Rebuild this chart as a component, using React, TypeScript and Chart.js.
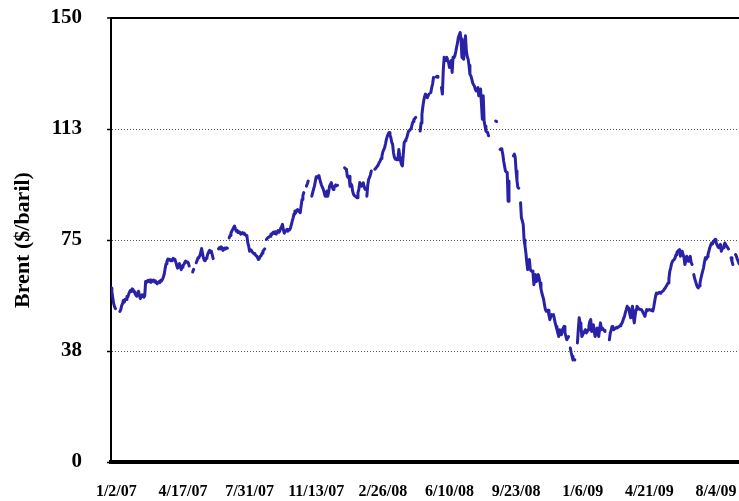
import React, { useEffect, useRef } from 'react';
import { Chart, registerables } from 'chart.js';

Chart.register(...registerables);

const _ = null;

// Brent daily prices ($/barrel), one entry per trading day (null = missing)
const brent2007: (number | null)[] = [
  58.8, 57.5, 55.5, 53.5, 52.5, 51.8, _, _, _, _,
  50.9, 51.5, 52.8, 53.5, 54.6, 54.0, 55.0, 54.9, 56.0, 55.8,
  56.8, 57.5, 58.0, 57.6, 58.5, 58.2, 57.5, 57.0, 56.4, 56.0,
  56.8, 57.7, 56.3, 55.2, 55.8, 56.5, 56.0, 55.7, 56.2, 61.0,
  60.6, 61.2, 61.4, 60.9, 61.5, 60.7, 61.0, 61.3, 61.5, 60.8,
  61.2, 60.5, 60.2, 60.7, 61.0, 60.6, 61.4, 61.2, 61.8, 62.5,
  63.6, 65.5, 67.0, 67.8, 68.6, 68.2, 68.5, 68.0, 68.3, 68.0,
  68.8, 68.5, 68.3, 67.5, 66.3, 65.5, 66.4, 67.0, 66.0, 65.0,
  65.8, 66.5, 66.7, 67.4, 67.9, 67.5, 67.6, 67.3, 66.2, _,
  _, _, 64.2, 65.1, _, _, 67.3, 68.2, 69.0, 69.3,
  69.6, 70.8, 72.1, 70.5, 69.0, 68.2, 68.0, 68.8, 69.2, 70.3,
  71.0, 71.5, 70.8, 71.2, 70.0, 68.7, _, _, _, _,
  _, 72.0, 72.4, 72.0, 72.7, 72.2, 71.5, 71.8, 72.3, 72.0,
  72.4, 72.2, _, 75.7, 76.5, 77.3, 78.0, 78.6, 79.2, 79.7,
  78.8, 78.0, 78.3, 77.5, 77.8, 77.6, 77.0, 77.2, 77.5, 77.0,
  77.3, 76.8, 76.5, 76.3, 74.0, 72.9, 71.2, 71.8, 71.5, 71.0,
  70.6, 70.4, 70.1, 69.8, 69.6, 69.0, 68.4, 68.8, 69.5, 69.7,
  70.5, 71.2, 71.6, 72.0, _, 75.2, 75.6, 75.9, 76.0, 76.3,
  77.0, 76.8, 77.4, 77.7, 77.2, 77.8, 77.0, 77.5, 78.2, 77.6,
  78.0, 79.0, 79.5, 80.3, 78.5, 77.3, 77.8, 78.2, 78.6, 78.0,
  78.5, 78.4, 79.0, 80.2, 81.4, 82.5, 83.8, 84.8, 84.2, 85.0,
  85.3, 84.9, 84.5, 84.2, 86.5, 88.7, 90.0, 91.0, _, _,
  93.2, 94.0, 94.9, _, _, _, 89.8, 91.0, 92.2, 93.2,
  94.8, 96.4, 96.0, 96.5, 96.8, 95.6, 94.4, 93.5, 92.8, 92.1,
  91.0, 89.8, 90.5, 91.5, 89.8, 91.2, 93.2, 93.8, 94.4, 93.0,
  92.1, 92.7, 93.2, 93.6, 93.3, 93.5, _, _, _, _,
];

const brent2008: (number | null)[] = [
  _, _, _, 99.4, 99.0, 98.9, 96.5, 96.1, 96.5, 93.2,
  94.0, 93.5, 91.5, 90.4, 90.0, 89.8, 89.5, 89.3, 91.0, 92.1,
  94.4, 93.5, 93.2, 93.8, 94.3, 93.0, 92.1, _, 89.8, 93.5,
  95.5, 96.1, 97.0, 98.3, _, _, _, 98.9, 99.2, 99.6,
  100.0, 100.5, 101.2, 101.7, 102.5, 103.4, 104.8, 105.5, 106.2, 107.5,
  109.0, 110.0, 110.8, 111.3, 110.5, 109.6, 108.0, 107.3, 104.5, 103.0,
  102.3, 102.5, 102.1, 102.3, 105.6, 103.5, 101.7, 100.5, 100.0, 104.0,
  107.9, 108.5, 109.0, 109.6, 110.8, 111.8, 112.0, 112.4, 112.8, 114.1,
  115.0, 115.8, 116.0, 116.4, _, _, _, _, 111.8, 114.5,
  117.5, 120.0, 122.0, 123.5, 124.3, 123.6, 123.1, 123.8, 124.3, _,
  124.8, 126.5, 127.7, 129.9, _, _, 130.1, 130.3, 130.0, _,
  _, _, 126.5, 124.3, 132.2, 136.7, 135.8, 135.6, 136.7, 135.8,
  135.0, 133.3, 134.5, 135.6, 131.6, 136.7, 136.5, 137.2, 138.5, 140.1,
  141.5, 143.5, 144.2, 145.1, 142.9, 136.7, 136.4, 136.1, 141.2, 144.0,
  138.9, 137.0, 136.1, 134.0, 131.0, 130.5, 129.5, 128.2, 127.5, 127.1,
  126.0, 125.4, 126.0, 126.5, 123.7, 125.0, 126.0, 120.9, 115.8, 123.7,
  115.2, 113.5, 111.8, 111.5, 111.3, 110.2, _, _, _, _,
  _, _, _, 115.2, 115.0, _, _, _, 105.6, 105.8,
  105.5, 104.0, 101.7, 100.0, 98.3, 98.0, 97.8, 88.1, 94.9, _,
  _, _, _, 103.4, 104.0, 103.0, 98.3, 95.0, 92.7, 92.5,
  _, 87.6, 82.5, 81.5, 80.3, 75.0, 73.0, 70.7, 67.5, 65.0,
  66.5, 68.4, 65.0, 64.5, 64.5, 63.9, 59.9, 61.5, 63.3, 61.0,
  62.0, 63.3, 62.0, 60.5, 58.5, 57.1, 56.0, 54.9, 53.0, 51.5,
  50.9, 51.0, 51.3, 49.5, 48.1, 49.0, 49.8, 49.5, 49.8, 48.5,
  47.0, 45.8, 44.7, 43.5, 42.4, 44.7, 44.0, 43.0, 44.7, 45.2,
  45.8, 43.6, 42.5, 41.3, 41.8, 42.4, _, 38.5, 37.0, 35.7,
  34.5, 34.8,
];

const brent2009: (number | null)[] = [
  34.5, _, _, 40.2, 44.7, 48.7, 47.0, 45.8,
  42.4, 43.0, 43.6, 44.2, 44.7, 43.6, 44.0, 44.7, 46.0, 47.5,
  48.1, 44.1, 45.0, 46.4, 44.0, 42.4, 44.0, 45.3, 44.0, 42.4,
  45.0, 47.0, 44.7, 45.3, 44.8, 44.5, 44.1, _, _, _,
  _, 41.3, 43.6, 44.5, 45.8, 45.2, 44.7, 45.0, 45.2, 45.5,
  45.3, 45.6, 45.8, 46.0, 46.5, 46.8, 47.5, 48.5, 49.2, 50.5,
  51.5, 52.6, 52.0, 51.5, 50.0, 48.7, 50.5, 52.6, 49.0, 47.0,
  49.5, 51.5, 52.6, 52.3, 51.8, 51.6, 51.5, 51.5, 51.0, 50.4,
  49.8, 49.2, 50.5, 51.5, 51.2, 51.4, 51.5, 51.3, 51.2, 51.5,
  51.0, 52.5, 54.3, 56.0, 57.1, 56.8, 57.0, 57.3, 57.0, 57.2,
  57.5, 57.7, 58.0, 58.5, 58.8, 59.4, 59.9, 60.5, 62.0, 64.4,
  65.6, 67.0, 67.8, 68.2, 68.4, 69.0, 70.0, 70.8, 71.2, 71.5,
  71.8, 69.5, 70.2, 71.2, 70.0, 69.0, 66.7, 68.0, 69.5, 68.5,
  67.8, 68.7, 69.5, 67.5, 66.7, _, 63.3, 62.0, 61.0, 60.0,
  59.2, 58.8, 59.5, 60.5, 62.0, 63.3, 64.5, 65.6, 67.5, 69.0,
  68.5, 69.3, 70.1, 71.2, 72.4, 73.2, 74.0, 73.6, 74.5, 74.8,
  75.2, 74.2, 73.5, 72.8, 72.4, 73.0, 73.5, 71.2, 72.0, 72.4,
  73.2, 74.0, 73.4, 72.9, 72.5, 72.0, _, _, 69.0, 67.8,
  66.7, _, _, 70.1, 69.5, 68.5, 67.8, 67.0,
];

// Category axis labels (every 15 weeks) and their trading-day positions
const xTickLabels = ['1/2/07', '4/17/07', '7/31/07', '11/13/07', '2/26/08', '6/10/08', '9/23/08', '1/6/09', '4/21/09', '8/4/09'];
const xTickPositions = [6, 81, 156, 231, 306, 381, 456, 531, 606, 681];

const yTickValues = [0, 37.5, 75, 112.5, 150];
const yTickLabels = ['0', '38', '75', '113', '150'];

const yTitle = 'Brent ($/baril)';
const FONT = "'Liberation Serif', 'Times New Roman', serif";

export default function App() {
  const ref = useRef<HTMLCanvasElement | null>(null);

  useEffect(() => {
    if (!ref.current) return;
    const series = [...brent2007, ...brent2008, ...brent2009];
    const points = series.map((v, i) => ({ x: i, y: v }));

    const chart = new Chart(ref.current, {
      type: 'line',
      data: {
        datasets: [
          {
            data: points as any,
            borderColor: '#2a22a6',
            borderWidth: 3,
            pointRadius: 0,
            pointHoverRadius: 0,
            tension: 0,
            spanGaps: false,
            borderCapStyle: 'round',
            borderJoinStyle: 'round',
            fill: false,
          },
        ],
      },
      options: {
        animation: false,
        responsive: false,
        events: [],
        layout: { padding: 0 },
        plugins: { legend: { display: false }, tooltip: { enabled: false } },
        scales: {
          x: {
            type: 'linear',
            min: 0,
            max: 706.9,
            afterBuildTicks: (s: any) => {
              s.ticks = xTickPositions.map((v) => ({ value: v }));
            },
            afterFit: (s: any) => {
              s.height = 39;
              s.paddingLeft = 0;
              s.paddingRight = 0;
            },
            ticks: {
              autoSkip: false,
              maxRotation: 0,
              minRotation: 0,
              padding: 20,
              color: '#000',
              font: { family: FONT, size: 16, weight: 'bold' },
              callback: (v: any) => {
                const k = xTickPositions.indexOf(Number(v));
                return k >= 0 ? xTickLabels[k] : '';
              },
            },
            grid: { display: false, drawTicks: false },
            border: { display: true, color: '#000', width: 4 },
          },
          y: {
            type: 'linear',
            min: 0,
            max: 150,
            afterBuildTicks: (s: any) => {
              s.ticks = yTickValues.map((v) => ({ value: v }));
            },
            afterFit: (s: any) => {
              s.width = 111;
              s.paddingTop = 18;
              s.paddingBottom = 0;
            },
            ticks: {
              padding: 25,
              color: '#000',
              font: { family: FONT, size: 21, weight: 'bold' },
              callback: (v: any) => {
                const k = yTickValues.indexOf(Number(v));
                return k >= 0 ? yTickLabels[k] : '';
              },
            },
            grid: {
              color: (ctx: any) => {
                const v = ctx.tick ? ctx.tick.value : null;
                if (v === 0) return 'rgba(0,0,0,0)';
                if (v === 150) return '#000';
                return '#555';
              },
              lineWidth: (ctx: any) => (ctx.tick && ctx.tick.value === 150 ? 2 : 1),
              tickColor: '#000',
              tickLength: 4,
              tickWidth: 1.5,
              tickBorderDash: [],
            },
            border: {
              display: true,
              color: '#000',
              width: 2,
              dash: (ctx: any) => (ctx.tick && ctx.tick.value === 150 ? [] : [1, 2]),
            },
            title: {
              display: true,
              text: yTitle,
              color: '#000',
              font: { family: FONT, size: 22, weight: 'bold' },
              padding: { top: 10, bottom: 0 },
            },
          },
        },
      },
    } as any);

    return () => chart.destroy();
  }, []);

  return (
    <div style={{ position: 'absolute', left: 0, top: 0, width: 739, height: 501, background: '#fff' }}>
      <canvas ref={ref} width={739} height={501} style={{ display: 'block', width: 739, height: 501 }} />
    </div>
  );
}
